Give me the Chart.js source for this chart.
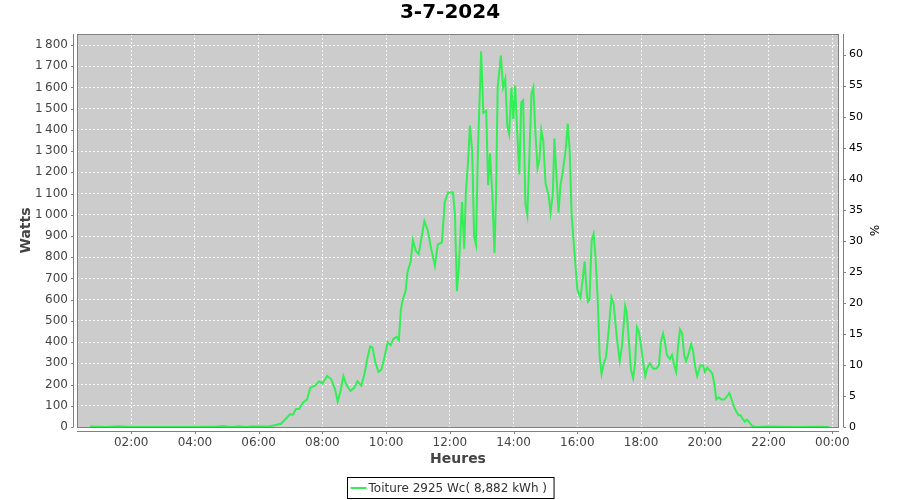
<!DOCTYPE html>
<html>
<head>
<meta charset="utf-8">
<script src="https://cdn.jsdelivr.net/npm/chart.js@4/dist/chart.umd.min.js"></script>
<style>
  html, body { margin: 0; padding: 0; background: #fff; }
  #wrap { width: 900px; height: 500px; }
</style>
</head>
<body>
<div id="wrap"><canvas id="prod"></canvas></div>
<script>
// ---- data (x = hour of day, y = watts) ----
const chartTitle = '3-7-2024';
const seriesLabel = 'Toiture 2925 Wc( 8,882 kWh )';
const peakPower = 2925;

const hours = [
  0.71, 1.2, 1.6, 2.0, 3.0, 4.0, 4.7, 4.9, 5.1, 5.4, 5.6, 5.8, 6.0, 6.3, 6.5,
  6.7, 6.86, 6.98, 7.08, 7.17, 7.27, 7.39, 7.52, 7.62, 7.77, 7.9, 8.0, 8.15, 8.28,
  8.4, 8.48, 8.57, 8.66, 8.75, 8.88, 9.0, 9.1, 9.22, 9.32, 9.42, 9.5, 9.57, 9.67,
  9.76, 9.85, 9.95, 10.05, 10.14, 10.23, 10.33, 10.4, 10.46, 10.52, 10.61, 10.67,
  10.77, 10.84, 10.93, 11.02, 11.12, 11.2, 11.3, 11.4, 11.53, 11.62, 11.75, 11.84,
  11.94, 12.1, 12.16, 12.22, 12.28, 12.38, 12.45, 12.5, 12.57, 12.63, 12.7, 12.76,
  12.82, 12.88, 12.98, 13.05, 13.14, 13.2, 13.26, 13.33, 13.4, 13.45, 13.5, 13.6,
  13.67, 13.74, 13.8, 13.86, 13.93, 13.99, 14.05, 14.11, 14.18, 14.24, 14.3, 14.37,
  14.43, 14.5, 14.56, 14.62, 14.68, 14.75, 14.81, 14.87, 14.93, 15.0, 15.1, 15.16,
  15.23, 15.28, 15.35, 15.41, 15.47, 15.54, 15.63, 15.7, 15.76, 15.82, 15.92, 16.0,
  16.04, 16.1, 16.17, 16.23, 16.3, 16.33, 16.38, 16.45, 16.51, 16.57, 16.64, 16.7,
  16.76, 16.83, 16.9, 16.98, 17.07, 17.14, 17.24, 17.33, 17.4, 17.5, 17.55, 17.62,
  17.68, 17.75, 17.81, 17.87, 17.93, 18.0, 18.07, 18.13, 18.2, 18.28, 18.38, 18.47,
  18.56, 18.62, 18.69, 18.75, 18.81, 18.9, 18.97, 19.04, 19.1, 19.16, 19.22, 19.29,
  19.35, 19.41, 19.48, 19.57, 19.63, 19.7, 19.76, 19.86, 19.95, 20.0, 20.08, 20.17,
  20.24, 20.3, 20.36, 20.43, 20.52, 20.61, 20.7, 20.77, 20.86, 20.93, 21.0, 21.06,
  21.12, 21.18, 21.25, 21.32, 21.38, 21.48, 21.6, 22.0, 22.5, 23.0, 23.5, 23.9
];
const watts = [
  2, 0, 3, 0, 0, 0, 2, 5, 0, 4, 0, 4, 2, 2, 8,
  15, 40, 60, 58, 85, 85, 115, 130, 185, 195, 215, 205, 240, 225,
  175, 120, 170, 240, 200, 170, 185, 215, 195, 250, 330, 380, 375, 300,
  260, 270, 330, 400, 385, 415, 425, 410, 550, 600, 640, 730,
  780, 880, 830, 815, 900, 970, 930, 850, 760, 860, 870, 1060,
  1105, 1105, 1000, 640, 750, 1060, 840, 1100, 1250, 1420, 1300, 900,
  860, 1300, 1770, 1480, 1490, 1140, 1290, 1100, 820, 1100, 1600, 1750,
  1600, 1640, 1420, 1380, 1600, 1450, 1610, 1400, 1190, 1530, 1540, 1050,
  1000, 1300, 1570, 1600, 1400, 1220, 1260, 1400, 1350, 1150, 1090, 1010,
  1100, 1360, 1170, 1010, 1140, 1200, 1300, 1430, 1300, 1000, 800, 650,
  630, 610, 700, 780, 620, 590, 600, 880, 910, 800, 600, 330,
  250, 300, 330, 450, 610, 580, 420, 310, 380, 570, 540, 400,
  270, 230, 300, 470, 450, 380, 300, 240, 280, 300, 275, 275,
  290, 400, 440, 400, 340, 320, 340, 290, 260, 380, 460, 440,
  340, 310, 340, 390, 360, 280, 240, 290, 290, 260, 280, 265,
  250, 200, 130, 140, 130, 130, 145, 160, 120, 90, 70, 55,
  55, 40, 25, 35, 25, 5, 0, 2, 1, 0, 1, 0
];

const hourTicks = [2, 4, 6, 8, 10, 12, 14, 16, 18, 20, 22, 24];
const wattTicks = [0, 100, 200, 300, 400, 500, 600, 700, 800, 900, 1000, 1100, 1200, 1300, 1400, 1500, 1600, 1700, 1800];
const pctTicks = [0, 5, 10, 15, 20, 25, 30, 35, 40, 45, 50, 55, 60];

const hourMin = 0.3, hourMax = 24.21;
const wattMax = 1852;

// ---- helpers ----
const fmtHour = v => String(Math.round(v) % 24).padStart(2, '0') + ':00';
const fmtWatt = v => v >= 1000 ? Math.floor(v / 1000) + '\u202F' + String(v % 1000).padStart(3, '0') : String(v);
const setTicks = list => scale => { scale.ticks = list.map(v => ({ value: v })); };

const lineColor = '#33ee55';
const axisGray = '#808080';

// plot background, offset axis lines and tick marks (JFreeChart look)
const plotFrame = {
  id: 'plotFrame',
  beforeDraw(chart) {
    const { ctx, chartArea: a } = chart;
    ctx.save();
    ctx.fillStyle = '#cccccc';
    ctx.fillRect(a.left, a.top, a.right - a.left, a.bottom - a.top);
    ctx.restore();
  },
  afterDraw(chart) {
    const { ctx, chartArea: a, scales } = chart;
    ctx.save();
    ctx.strokeStyle = axisGray;
    ctx.lineWidth = 1;
    // plot outline
    ctx.strokeRect(a.left + 0.5, a.top + 0.5, a.right - a.left - 1, a.bottom - a.top);
    // offset axis lines
    ctx.beginPath();
    ctx.moveTo(a.left - 3.5, a.top); ctx.lineTo(a.left - 3.5, a.bottom);
    ctx.moveTo(a.right + 4.5, a.top); ctx.lineTo(a.right + 4.5, a.bottom);
    ctx.moveTo(a.left, a.bottom + 4.5); ctx.lineTo(a.right, a.bottom + 4.5);
    // tick marks
    wattTicks.forEach(v => {
      const y = Math.round(scales.y.getPixelForValue(v)) + 0.5;
      ctx.moveTo(a.left - 6, y); ctx.lineTo(a.left - 3.5, y);
    });
    pctTicks.forEach(v => {
      const y = Math.round(scales.pct.getPixelForValue(v)) + 0.5;
      ctx.moveTo(a.right + 4.5, y); ctx.lineTo(a.right + 7, y);
    });
    hourTicks.forEach(v => {
      const x = Math.round(scales.x.getPixelForValue(v)) + 0.5;
      ctx.moveTo(x, a.bottom + 4.5); ctx.lineTo(x, a.bottom + 7);
    });
    ctx.stroke();

    // title
    ctx.fillStyle = '#000';
    ctx.font = 'bold 20px "DejaVu Sans"';
    ctx.textAlign = 'center';
    ctx.textBaseline = 'middle';
    ctx.fillText(chartTitle, 450, 13);

    // legend box
    ctx.font = '12px "DejaVu Sans"';
    const tw = ctx.measureText(seriesLabel).width;
    const boxW = tw + 28, boxH = 21;
    const bx = Math.round(450 - boxW / 2) + 0.5, by = 477.5;
    ctx.strokeStyle = '#000';
    ctx.strokeRect(bx, by, boxW, boxH);
    ctx.strokeStyle = lineColor;
    ctx.lineWidth = 2;
    ctx.beginPath();
    ctx.moveTo(bx + 3, by + 10.5); ctx.lineTo(bx + 19, by + 10.5);
    ctx.stroke();
    ctx.fillStyle = '#333';
    ctx.textAlign = 'left';
    ctx.fillText(seriesLabel, bx + 21, by + 11);
    ctx.restore();
  }
};

const gridOpts = { color: 'rgba(255,255,255,0.85)', drawTicks: false, lineWidth: 1 };
const borderOpts = { display: false, dash: [2, 2] };

new Chart(document.getElementById('prod'), {
  type: 'line',
  data: {
    datasets: [{
      label: seriesLabel,
      data: hours.map((h, i) => ({ x: h, y: watts[i] })),
      borderColor: lineColor,
      backgroundColor: lineColor,
      borderWidth: 2,
      pointRadius: 0,
      tension: 0,
      yAxisID: 'y'
    }]
  },
  options: {
    responsive: true,
    maintainAspectRatio: false,
    animation: false,
    layout: { padding: { top: 34, bottom: 30, left: 0, right: 0 } },
    plugins: {
      legend: { display: false },
      title: { display: false },
      tooltip: { enabled: false }
    },
    scales: {
      x: {
        type: 'linear',
        min: hourMin,
        max: hourMax,
        afterBuildTicks: setTicks(hourTicks),
        afterFit: s => { s.height = 43; },
        grid: gridOpts,
        border: borderOpts,
        ticks: {
          padding: 9,
          color: '#444',
          font: { family: 'DejaVu Sans', size: 12 },
          maxRotation: 0,
          callback: v => fmtHour(v)
        },
        title: {
          display: true,
          text: 'Heures',
          color: '#444',
          font: { family: 'DejaVu Sans', size: 14, weight: 'bold' },
          padding: { top: 0, bottom: 2 }
        }
      },
      y: {
        type: 'linear',
        position: 'left',
        min: 0,
        max: wattMax,
        afterBuildTicks: setTicks(wattTicks),
        afterFit: s => { s.width = 77; },
        grid: gridOpts,
        border: borderOpts,
        ticks: {
          padding: 9,
          color: '#444',
          font: { family: 'DejaVu Sans', size: 12 },
          callback: v => fmtWatt(v)
        },
        title: {
          display: true,
          text: 'Watts',
          color: '#444',
          font: { family: 'DejaVu Sans', size: 14, weight: 'bold' },
          padding: { top: 18, bottom: 0 }
        }
      },
      pct: {
        type: 'linear',
        position: 'right',
        min: 0,
        max: wattMax / peakPower * 100,
        afterBuildTicks: setTicks(pctTicks),
        afterFit: s => { s.width = 61; },
        grid: { display: false, drawTicks: false },
        border: { display: false },
        ticks: {
          padding: 10,
          color: '#000',
          font: { family: 'DejaVu Sans', size: 11 }
        },
        title: {
          display: true,
          text: '%',
          color: '#000',
          font: { family: 'DejaVu Sans', size: 12 },
          padding: { top: 20, bottom: 0 }
        }
      }
    }
  },
  plugins: [plotFrame]
});
</script>
</body>
</html>
